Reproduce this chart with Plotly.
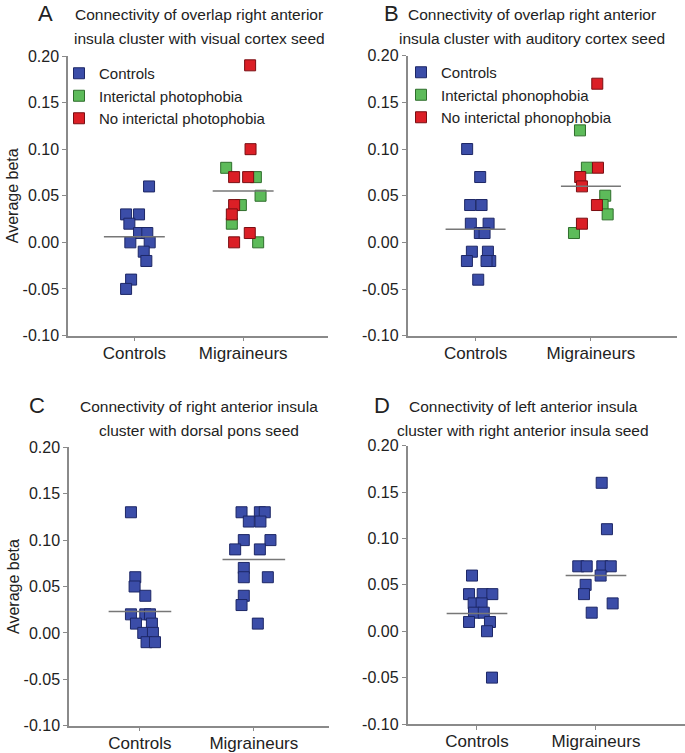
import plotly.graph_objects as go

# ---------------- data ----------------
GROUPS = ["Controls", "Migraineurs"]
YTICKS = [-0.10, -0.05, 0.00, 0.05, 0.10, 0.15, 0.20]
YTICK_TEXT = ["-0.10", "-0.05", "0.00", "0.05", "0.10", "0.15", "0.20"]

# A: visual cortex seed
a_ctrl_y = [0.06, 0.03, 0.03, 0.02, 0.01, 0.01, 0.00, 0.00, -0.01, -0.02, -0.04, -0.05]
a_ctrl_dx = [0.135, -0.076, 0.043, -0.046, 0.043, 0.119, -0.037, 0.141, 0.086, 0.110, -0.030, -0.076]
a_int_y = [0.08, 0.07, 0.05, 0.04, 0.02, 0.00]
a_int_dx = [-0.156, 0.117, 0.160, -0.021, -0.104, 0.138]
a_no_y = [0.19, 0.10, 0.07, 0.07, 0.04, 0.03, 0.01, 0.00]
a_no_dx = [0.064, 0.068, -0.083, 0.046, -0.083, -0.104, 0.061, -0.083]
a_means = [0.006, 0.055]

# B: auditory cortex seed
b_ctrl_y = [0.10, 0.07, 0.04, 0.04, 0.02, 0.02, 0.01, 0.01, -0.01, -0.01, -0.02, -0.02, -0.02, -0.04]
b_ctrl_dx = [-0.073, 0.040, -0.047, 0.052, -0.041, 0.113, 0.037, 0.078, -0.032, 0.107, -0.075, 0.127, 0.095, 0.023]
b_int_y = [0.12, 0.08, 0.05, 0.04, 0.03, 0.01]
b_int_dx = [-0.095, -0.035, 0.124, 0.101, 0.145, -0.147]
b_no_y = [0.17, 0.08, 0.07, 0.06, 0.04, 0.02]
b_no_dx = [0.055, 0.061, -0.093, -0.078, 0.052, -0.078]
b_means = [0.014, 0.060]

# C: dorsal pons seed
c_ctrl_y = [0.13, 0.06, 0.05, 0.04, 0.02, 0.02, 0.02, 0.01, 0.01, 0.00, 0.00, -0.01, -0.01]
c_ctrl_dx = [-0.079, -0.041, -0.047, 0.047, -0.079, 0.047, 0.088, -0.035, 0.105, 0.029, 0.114, 0.058, 0.132]
c_mig_y = [0.13, 0.13, 0.13, 0.12, 0.12, 0.10, 0.10, 0.09, 0.09, 0.07, 0.06, 0.06, 0.04, 0.03, 0.01]
c_mig_dx = [-0.108, 0.053, 0.096, -0.044, 0.058, -0.088, 0.146, -0.164, 0.053, -0.088, -0.088, 0.123, -0.088, -0.108, 0.035]
c_means = [0.023, 0.079]

# D: right anterior insula seed
d_ctrl_y = [0.06, 0.04, 0.04, 0.04, 0.03, 0.03, 0.02, 0.02, 0.01, 0.01, 0.00, -0.05]
d_ctrl_dx = [-0.042, -0.067, 0.048, 0.129, -0.028, 0.039, -0.025, 0.057, -0.067, 0.109, 0.084, 0.126]
d_mig_y = [0.16, 0.11, 0.07, 0.07, 0.07, 0.07, 0.06, 0.05, 0.04, 0.03, 0.02]
d_mig_dx = [0.048, 0.092, -0.149, -0.078, 0.053, 0.124, 0.039, -0.087, -0.101, 0.140, -0.036]
d_means = [0.019, 0.060]

TITLES = {
    "A": ["Connectivity of overlap right anterior", "insula cluster with visual cortex seed"],
    "B": ["Connectivity of overlap right anterior", "insula cluster with auditory cortex seed"],
    "C": ["Connectivity of right anterior insula", "cluster with dorsal pons seed"],
    "D": ["Connectivity of left anterior insula", "cluster with right anterior insula seed"],
}

# ---------------- styling ----------------
W, H = 685, 753
FONT = "Arial, Liberation Sans, sans-serif"
BLUE = dict(color="#3B4DA8", line=dict(color="#1D2766", width=1))
GREEN = dict(color="#5DBB5A", line=dict(color="#2F6E2C", width=1))
RED = dict(color="#DB1F26", line=dict(color="#7A0E12", width=1))
AX = "#8a8a8a"


def px_x(p):
    return p / W


def px_y(p):
    return 1 - p / H


# panel geometry in pixels: x-domain, y-domain (top, bottom), x-range
PANELS = {
    "A": dict(dom_x=(68, 328), dom_y=(56, 335.5), xr=(0.39, 2.78), ax=""),
    "B": dict(dom_x=(407.5, 677), dom_y=(55.7, 335.7), xr=(0.41, 2.746), ax="2"),
    "C": dict(dom_x=(69, 329), dom_y=(447.3, 725.7), xr=(0.377, 2.66), ax="3"),
    "D": dict(dom_x=(407.5, 685), dom_y=(445.7, 724), xr=(0.416, 2.748), ax="4"),
}
TITLE_POS = {"A": (199, 14.7, 45), "B": (532, 14.7, 392), "C": (199, 406.5, 37), "D": (523, 406.5, 382)}

fig = go.Figure()


def square(mk, size=11):
    return dict(symbol="square", size=size, color=mk["color"], line=mk["line"])


def add_points(panel, group, dx, ys, mk, name=None, legend=None):
    ax = PANELS[panel]["ax"]
    fig.add_trace(go.Scatter(
        x=[group + d for d in dx], y=ys, mode="markers",
        marker=square(mk), name=name or "",
        showlegend=legend is not None, legend=legend or "legend",
        xaxis="x" + ax, yaxis="y" + ax,
        hovertemplate="%{y:.2f}<extra></extra>",
    ))


def add_means(panel, means, half):
    ax = PANELS[panel]["ax"]
    for g, m in zip([1, 2], means):
        fig.add_trace(go.Scatter(
            x=[g - half, g + half], y=[m, m], mode="lines",
            line=dict(color="#777777", width=1.5), showlegend=False,
            hoverinfo="skip", xaxis="x" + ax, yaxis="y" + ax,
        ))


# A
add_points("A", 1, a_ctrl_dx, a_ctrl_y, BLUE, "Controls", "legend")
add_points("A", 2, a_int_dx, a_int_y, GREEN, "Interictal photophobia", "legend")
add_points("A", 2, a_no_dx, a_no_y, RED, "No interictal photophobia", "legend")
add_means("A", a_means, 0.28)
# B
add_points("B", 1, b_ctrl_dx, b_ctrl_y, BLUE, "Controls", "legend2")
add_points("B", 2, b_int_dx, b_int_y, GREEN, "Interictal phonophobia", "legend2")
add_points("B", 2, b_no_dx, b_no_y, RED, "No interictal phonophobia", "legend2")
add_means("B", b_means, 0.26)
# C
add_points("C", 1, c_ctrl_dx, c_ctrl_y, BLUE)
add_points("C", 2, c_mig_dx, c_mig_y, BLUE)
add_means("C", c_means, 0.275)
# D
add_points("D", 1, d_ctrl_dx, d_ctrl_y, BLUE)
add_points("D", 2, d_mig_dx, d_mig_y, BLUE)
add_means("D", d_means, 0.255)

layout = dict(
    width=W, height=H, margin=dict(l=0, r=0, t=0, b=0),
    template="none", paper_bgcolor="white", plot_bgcolor="white",
    font=dict(family=FONT, color="#222222"),
    showlegend=True,
)

for key, p in PANELS.items():
    ax = p["ax"]
    layout["xaxis" + ax] = dict(
        domain=[px_x(p["dom_x"][0]), px_x(p["dom_x"][1])], range=list(p["xr"]),
        anchor="y" + ax, tickvals=[1, 2], ticktext=GROUPS,
        showline=True, linecolor=AX, linewidth=1.5, ticks="outside", ticklen=4,
        tickcolor=AX, showgrid=False, zeroline=False, ticklabelstandoff=-3,
        tickfont=dict(size=17, family=FONT, color="#222222"), fixedrange=True,
    )
    layout["yaxis" + ax] = dict(
        domain=[px_y(p["dom_y"][1]), px_y(p["dom_y"][0])], range=[-0.10, 0.20],
        anchor="x" + ax, tickvals=YTICKS, ticktext=YTICK_TEXT,
        showline=True, linecolor=AX, linewidth=1.5, ticks="outside", ticklen=4,
        tickcolor=AX, showgrid=False, zeroline=False,
        tickfont=dict(size=16, family=FONT, color="#222222"), fixedrange=True,
        title=dict(text="Average beta" if key in ("A", "C") else "",
                   font=dict(size=16, family=FONT, color="#222222"), standoff=0),
    )

legend_common = dict(
    xanchor="left", yanchor="top", bgcolor="rgba(0,0,0,0)",
    font=dict(size=15, family=FONT, color="#222222"), tracegroupgap=0,
    itemclick=False, itemdoubleclick=False,
)
layout["legend"] = dict(x=px_x(59), y=px_y(57), **legend_common)
layout["legend2"] = dict(x=px_x(401), y=px_y(56), **legend_common)

annotations = []
for key, (cx, cy, lx) in TITLE_POS.items():
    for i, line in enumerate(TITLES[key]):
        annotations.append(dict(
            text=line, x=px_x(cx), y=px_y(cy + i * 23.6), xref="paper", yref="paper",
            xanchor="center", yanchor="middle", showarrow=False,
            font=dict(size=15.5, family=FONT, color="#222222"),
        ))
    annotations.append(dict(
        text=key, x=px_x(lx), y=px_y(cy - 1), xref="paper", yref="paper",
        xanchor="center", yanchor="middle", showarrow=False,
        font=dict(size=22, family=FONT, color="#222222"),
    ))
layout["annotations"] = annotations

fig.update_layout(**layout)
# the page's default body margin would push the figure 8px right and down
fig.write_html(
    "out.html",
    config={"displayModeBar": False},
    post_script="document.body.style.margin='0';",
)
